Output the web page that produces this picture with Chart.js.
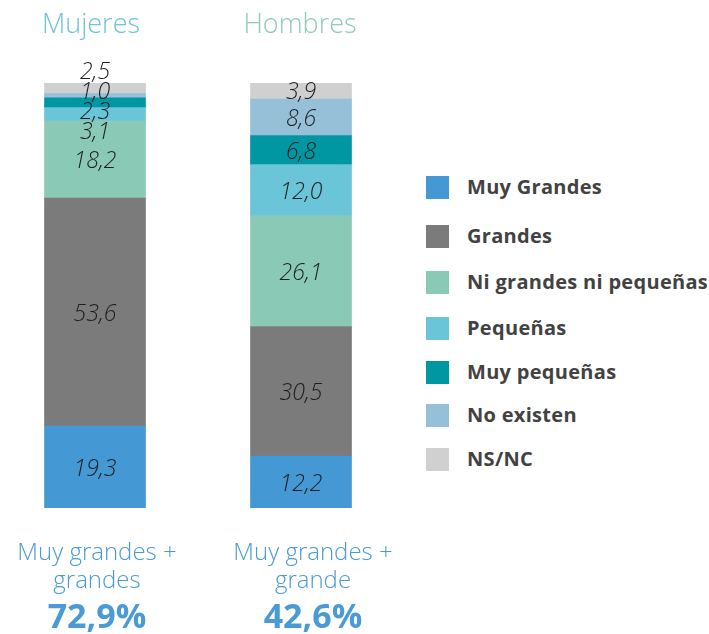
<!DOCTYPE html>
<html><head><meta charset="utf-8">
<script src="https://cdn.jsdelivr.net/npm/chart.js@4.4.0/dist/chart.umd.min.js"></script>
<style>
html,body{margin:0;padding:0;width:709px;height:634px;overflow:hidden;background:#fff;font-family:'Open Sans',Lato,sans-serif;}
#wrap{position:absolute;left:-8px;top:0;width:412px;height:634px;}
.title{position:absolute;top:5px;width:200px;margin-left:-100px;text-align:center;font-size:27px;font-weight:300;line-height:36px;}
.sum{position:absolute;top:537px;width:230px;margin-left:-115px;text-align:center;color:#4a9ad6;}
.sum .t{font-size:24px;font-weight:300;line-height:28px;}
.sum .v{font-size:34px;font-weight:700;line-height:44px;}
#legend{position:absolute;left:426px;top:0;}
.li{position:absolute;left:0;height:23px;}
.sw{position:absolute;left:0;top:0;width:23px;height:23px;}
.lt{position:absolute;left:41px;top:-1px;line-height:23px;font-size:20px;letter-spacing:0.3px;font-weight:700;color:#424242;white-space:nowrap;}
</style></head>
<body>
<div id="wrap"><canvas id="c" width="412" height="634"></canvas></div>
<div id="titles"></div>
<div id="legend"></div>
<div id="sums"></div>
<script>
const categories = ['Mujeres', 'Hombres'];
const seriesNames = ['Muy Grandes', 'Grandes', 'Ni grandes ni pequeñas', 'Pequeñas', 'Muy pequeñas', 'No existen', 'NS/NC'];
const muyGrandes = [19.3, 12.2];
const grandes = [53.6, 30.5];
const niGrandesNiPequenas = [18.2, 26.1];
const pequenas = [3.1, 12.0];
const muyPequenas = [2.3, 6.8];
const noExisten = [1.0, 8.6];
const nsnc = [2.5, 3.9];
const summaryText = ['Muy grandes +<br>grandes', 'Muy grandes +<br>grande'];
const summaryValues = [72.9, 42.6];

const seriesValues = [muyGrandes, grandes, niGrandesNiPequenas, pequenas, muyPequenas, noExisten, nsnc];
const colors = ['#4498d4', '#7b7b7b', '#8bc9b7', '#69c5d7', '#0097a3', '#95c0d8', '#d0d0d0'];
const titleColors = ['#6cc4d8', '#8fcbb8'];
const legendTops = [176, 225, 271, 317, 361, 404, 448];
const fmt = v => v.toFixed(1).replace('.', ',');

const labelPlugin = {
  id: 'segLabels',
  afterDatasetsDraw(chart) {
    const ctx = chart.ctx;
    const n = chart.data.labels.length;
    ctx.save();
    ctx.font = 'italic 300 23px "Open Sans", Lato, sans-serif';
    ctx.fillStyle = '#1e1e1e';
    ctx.textAlign = 'center';
    ctx.textBaseline = 'middle';
    const gap = 20;
    for (let i = 0; i < n; i++) {
      let items = [];
      chart.data.datasets.forEach((ds, d) => {
        const el = chart.getDatasetMeta(d).data[i];
        items.push({x: el.x, c: (el.y + el.base) / 2, text: fmt(ds.data[i])});
      });
      items.sort((a, b) => a.c - b.c);
      let clusters = items.map(it => ({members: [it], pos: it.c}));
      let changed = true;
      while (changed) {
        changed = false;
        for (let k = 0; k < clusters.length - 1; k++) {
          const a = clusters[k], b = clusters[k + 1];
          const aEnd = a.pos + (a.members.length - 1) * gap / 2;
          const bStart = b.pos - (b.members.length - 1) * gap / 2;
          if (bStart - aEnd < gap) {
            const m = a.members.concat(b.members);
            const mean = m.reduce((s, it) => s + it.c, 0) / m.length;
            clusters.splice(k, 2, {members: m, pos: mean});
            changed = true;
            break;
          }
        }
      }
      clusters.forEach(cl => {
        const start = cl.pos - (cl.members.length - 1) * gap / 2;
        cl.members.forEach((it, j) => ctx.fillText(it.text, it.x, start + j * gap + 2));
      });
    }
    ctx.restore();
  }
};

new Chart(document.getElementById('c'), {
  type: 'bar',
  data: {
    labels: categories,
    datasets: seriesNames.map((name, k) => ({
      label: name,
      data: seriesValues[k],
      backgroundColor: colors[k],
      borderWidth: 0,
      barThickness: 101
    }))
  },
  options: {
    responsive: false,
    animation: false,
    layout: {padding: {top: 83, bottom: 126, left: 0, right: 0}},
    plugins: {legend: {display: false}, tooltip: {enabled: false}},
    scales: {
      x: {stacked: true, display: false},
      y: {stacked: true, display: false, min: 0, max: 100}
    }
  },
  plugins: [labelPlugin]
});

const centersTitle = [91, 300];
const centersSum = [97, 313];
const titles = document.getElementById('titles');
categories.forEach((c, i) => {
  const d = document.createElement('div');
  d.className = 'title';
  d.style.left = centersTitle[i] + 'px';
  d.style.color = titleColors[i];
  d.textContent = c;
  titles.appendChild(d);
});
const sums = document.getElementById('sums');
summaryText.forEach((t, i) => {
  const d = document.createElement('div');
  d.className = 'sum';
  d.style.left = centersSum[i] + 'px';
  d.innerHTML = '<div class="t">' + t + '</div><div class="v">' + fmt(summaryValues[i]) + '%</div>';
  sums.appendChild(d);
});
const legend = document.getElementById('legend');
seriesNames.forEach((name, k) => {
  const d = document.createElement('div');
  d.className = 'li';
  d.style.top = legendTops[k] + 'px';
  d.innerHTML = '<div class="sw" style="background:' + colors[k] + '"></div><div class="lt">' + name + '</div>';
  legend.appendChild(d);
});
</script>
</body></html>
